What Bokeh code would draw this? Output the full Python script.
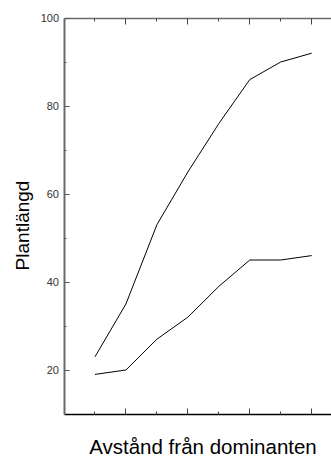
import math
from bokeh.plotting import figure
from bokeh.models import (LinearAxis, FixedTicker, Range1d, Label,
                          CustomLabelingPolicy)
from bokeh.embed import file_html
from bokeh.resources import INLINE

# Data
distance = [1, 2, 3, 4, 5, 6, 7, 8]
upper = [23, 35, 53, 65, 76, 86, 90, 92]
lower = [19, 20, 27, 32, 39, 45, 45, 46]
y_ticks = [20, 40, 60, 80, 100]
y_minor = [30, 50, 70, 90]
x_major = [2, 4, 6, 8]
x_minor = [1, 3, 5, 7]
y_min, y_max = 10, 100
x_min = 0
x_label = "Avstånd från dominanten"
y_label = "Plantlängd"

FONT = "Liberation Sans"
W, H = 331, 457
# geometry of the plotting area in pixels
LEFT, TOP, BOTTOM = 63.5, 17.5, 413.5
PX_X = 30.96

py = (BOTTOM - TOP) / (y_max - y_min)
x_start = x_min - LEFT / PX_X
x_end = x_start + W / PX_X
y_top = y_max + TOP / py
y_bot = y_top - H / py

p = figure(width=W, height=H, output_backend="svg", toolbar_location=None,
           x_range=Range1d(x_start, x_end), y_range=Range1d(y_bot, y_top),
           x_axis_location=None, y_axis_location=None,
           min_border_left=0, min_border_right=0, min_border_top=0,
           min_border_bottom=0)
p.grid.visible = False
p.outline_line_color = None
p.background_fill_color = "white"
p.border_fill_color = "white"

no_labels = CustomLabelingPolicy(code="return []")

# Left axis
yax = LinearAxis(ticker=FixedTicker(ticks=y_ticks, minor_ticks=y_minor),
                 fixed_location=x_min, bounds=(y_min, y_max))
yax.axis_line_color = "#6a6a6a"
yax.axis_line_width = 2
yax.major_tick_in = 5
yax.major_tick_out = 0
yax.minor_tick_in = 2
yax.minor_tick_out = 0
yax.major_tick_line_color = "#555555"
yax.minor_tick_line_color = "#555555"
yax.major_label_text_font = FONT
yax.major_label_text_font_size = "11px"
yax.major_label_text_color = "#333333"
yax.major_label_standoff = 5
p.add_layout(yax, "left")

def tick_axis(color, width, loc):
    ax = LinearAxis(ticker=FixedTicker(ticks=x_major, minor_ticks=x_minor),
                    fixed_location=loc, bounds=(x_min, x_end))
    ax.axis_line_color = color
    ax.axis_line_width = width
    ax.major_tick_in = 6
    ax.major_tick_out = 0
    ax.minor_tick_in = 3
    ax.minor_tick_out = 0
    ax.major_tick_line_color = "#444444"
    ax.minor_tick_line_color = "#444444"
    ax.major_label_text_font_size = "1px"
    ax.major_label_standoff = 0
    ax.major_label_policy = no_labels
    return ax

p.add_layout(tick_axis("black", 1.5, y_min), "below")
p.add_layout(tick_axis("#6a6a6a", 1.5, y_max), "above")

# Lines
p.line(distance, upper, line_color="black", line_width=1)
p.line(distance, lower, line_color="black", line_width=1)

# Axis titles (screen units)
p.add_layout(Label(x=202.5, y=11, x_units="screen", y_units="screen",
                   text=x_label, text_font=FONT, text_font_size="20.5px",
                   text_align="center", text_baseline="alphabetic",
                   text_color="black"))
p.add_layout(Label(x=21.5, y=232, x_units="screen", y_units="screen",
                   text=y_label, text_font=FONT, text_font_size="19px",
                   angle=math.pi / 2, text_align="center",
                   text_baseline="alphabetic", text_color="black"))

open("out.html", "w").write(file_html(p, INLINE))
